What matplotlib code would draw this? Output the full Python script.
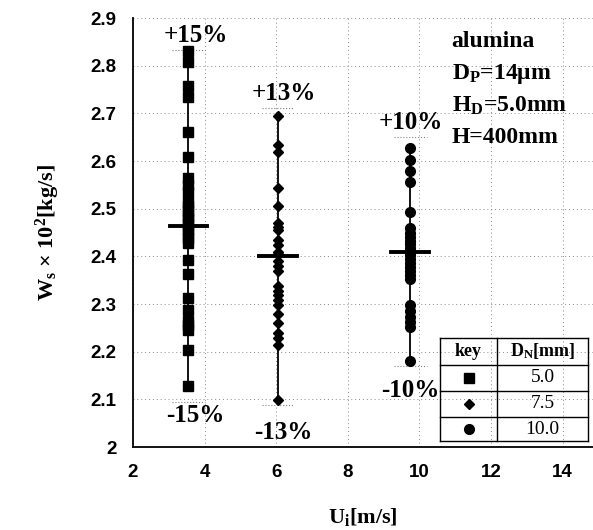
import matplotlib.pyplot as plt
from matplotlib.lines import Line2D

# data
x_sq = 3.55
ws_sq = [2.830, 2.808, 2.757, 2.734, 2.661, 2.609, 2.565, 2.550, 2.535,
         2.515, 2.505, 2.495, 2.485, 2.478, 2.468, 2.458, 2.448, 2.438, 2.428,
         2.392, 2.362, 2.313, 2.288, 2.265, 2.255, 2.245, 2.204, 2.127]
x_di = 6.05
ws_di = [2.695, 2.634, 2.619, 2.543, 2.505, 2.470, 2.462, 2.455, 2.435, 2.424,
         2.410, 2.405, 2.390, 2.380, 2.370, 2.338, 2.328, 2.318, 2.308, 2.298,
         2.278, 2.261, 2.240, 2.228, 2.215, 2.098]
x_ci = 9.75
ws_ci = [2.627, 2.603, 2.580, 2.555, 2.492, 2.460, 2.450, 2.440, 2.432, 2.425,
         2.418, 2.410, 2.402, 2.395, 2.387, 2.378, 2.370, 2.360, 2.352,
         2.298, 2.285, 2.273, 2.262, 2.252, 2.180]
means = [2.464, 2.400, 2.410]
pcts = [15, 13, 10]
key_labels = ["5.0", "7.5", "10.0"]

plt.rcParams['font.family'] = ['Liberation Serif', 'DejaVu Serif']
plt.rcParams['mathtext.fontset'] = 'custom'
plt.rcParams['mathtext.rm'] = 'Liberation Serif:bold'
plt.rcParams['mathtext.bf'] = 'Liberation Serif:bold'
plt.rcParams['mathtext.it'] = 'Liberation Serif:bold'

fig = plt.figure(figsize=(5.93, 5.30), dpi=100)
ax = fig.add_axes([0.2243, 0.1566, 0.7757, 0.8094])

xs = [x_sq, x_di, x_ci]
series = [ws_sq, ws_di, ws_ci]
markers = ['s', 'D', 'o']
msizes = [6.5, 5.0, 7.0]
# label offsets (points) above / below the limit lines
off_hi = [10, 10, 10]
off_lo = [10, 20, 17]
lab_dx = [0.2, 0.15, 0.0]

for i, (x, ws, m, ms, mean, p) in enumerate(zip(xs, series, markers, msizes, means, pcts)):
    ax.plot([x, x], [min(ws), max(ws)], color='black', lw=1.3, zorder=3)
    ax.plot([x] * len(ws), ws, ls='none', marker=m, ms=ms, color='black', zorder=4)
    ax.plot([x - 0.53, x + 0.53], [mean, mean], color='black', lw=2.8, zorder=5)
    hi = mean * (1 + p / 100)
    lo = mean * (1 - p / 100)
    ax.plot([x - 0.45, x + 0.45], [hi, hi], color='gray', lw=0.8, ls=':', zorder=2)
    ax.plot([x - 0.45, x + 0.45], [lo, lo], color='gray', lw=0.8, ls=':', zorder=2)
    ax.annotate(f"+{p}%", (x + lab_dx[i], hi), xytext=(0, off_hi[i]), textcoords='offset points',
                ha='center', va='center', fontsize=18, fontweight='bold')
    ax.annotate(f"-{p}%", (x + lab_dx[i], lo), xytext=(0, -off_lo[i]), textcoords='offset points',
                ha='center', va='center', fontsize=18, fontweight='bold')

ax.set_xlim(2, 14.85)
ax.set_ylim(2, 2.9)
ax.set_xticks([2, 4, 6, 8, 10, 12, 14])
ax.set_yticks([2, 2.1, 2.2, 2.3, 2.4, 2.5, 2.6, 2.7, 2.8, 2.9])
ax.set_yticklabels(["2", "2.1", "2.2", "2.3", "2.4", "2.5", "2.6", "2.7", "2.8", "2.9"])
ax.grid(True, color='#888888', ls=(0, (1, 3)), lw=0.7)
ax.tick_params(length=0, pad=12, labelsize=13.5)
for lab in ax.get_xticklabels() + ax.get_yticklabels():
    lab.set_family('Liberation Sans')
    lab.set_fontweight('bold')
for s in ['top', 'right']:
    ax.spines[s].set_visible(False)
ax.spines['left'].set_linewidth(1.3)
ax.spines['bottom'].set_linewidth(1.3)

ax.set_xlabel(r"U$_\mathbf{i}$[m/s]", fontsize=16, fontweight='bold', labelpad=18)
ax.set_ylabel(r"W$_\mathbf{s}$ × 10$^\mathbf{2}$[kg/s]", fontsize=16,
              fontweight='bold', labelpad=20)

info = ["alumina", r"D$_\mathbf{P}$=14μm", r"H$_\mathbf{D}$=5.0mm", "H=400mm"]
for i, t in enumerate(info):
    ax.text(10.9, 2.85 - i * 0.067, t, fontsize=17, fontweight='bold', va='center')

# key table
tl, tr, tm = 440 / 593, 588 / 593, 497 / 593
rows_y = [338, 365, 391, 417, 441]
def fy(py):
    return 1 - py / 530
for py in rows_y:
    fig.add_artist(Line2D([tl, tr], [fy(py), fy(py)], color='black', lw=1.0))
for px in [tl, tm, tr]:
    fig.add_artist(Line2D([px, px], [fy(338), fy(441)], color='black', lw=1.0))
fig.text((tl + tm) / 2, fy(351), "key", ha='center', va='center', fontsize=13, fontweight='bold')
fig.text((tm + tr) / 2, fy(351), r"D$_\mathbf{N}$[mm]", ha='center', va='center',
         fontsize=13, fontweight='bold')
for i, (m, ms, lab) in enumerate(zip(markers, msizes, key_labels)):
    yc = fy((rows_y[i + 1] + rows_y[i + 2]) / 2)
    fig.add_artist(Line2D([(tl + tm) / 2], [yc], marker=m, ms=ms, color='black', ls='none'))
    fig.text((tm + tr) / 2, yc, lab, ha='center', va='center', fontsize=14)

fig.savefig("out.png", dpi=100)
